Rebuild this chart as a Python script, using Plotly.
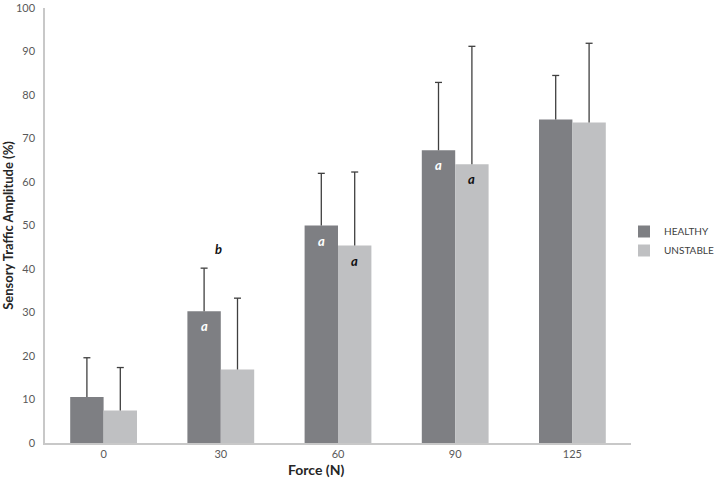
import plotly.graph_objects as go

categories = ["0", "30", "60", "90", "125"]
healthy = [10.6, 30.3, 50.0, 67.3, 74.4]
healthy_err = [9.0, 9.9, 12.0, 15.6, 10.1]
unstable = [7.5, 16.9, 45.4, 64.1, 73.7]
unstable_err = [9.85, 16.4, 16.9, 27.1, 18.2]
healthy_letters = ["", "a", "a", "a", ""]
unstable_letters = ["", "", "a", "a", ""]
group_letters = ["", "b", "", "", ""]

FONT = "Lato, 'Open Sans', sans-serif"
C_H = "#7e7f83"
C_U = "#bfc0c2"
ERR = "#3f3f3f"

fig = go.Figure()
for name, vals, errs, col, grp in [("HEALTHY", healthy, healthy_err, C_H, "h"),
                                   ("UNSTABLE", unstable, unstable_err, C_U, "u")]:
    fig.add_trace(go.Bar(
        name=name, x=categories, y=vals, offsetgroup=grp,
        marker=dict(color=col, line=dict(width=0)),
        error_y=dict(type="data", symmetric=False, array=errs,
                     arrayminus=[0] * len(vals), color=ERR, thickness=1.3, width=0),
    ))
for vals, errs, grp in [(healthy, healthy_err, "h"), (unstable, unstable_err, "u")]:
    fig.add_trace(go.Scatter(
        x=categories, y=[v + e for v, e in zip(vals, errs)], offsetgroup=grp,
        mode="markers", showlegend=False, hoverinfo="skip",
        marker=dict(symbol="line-ew", size=5, line=dict(color=ERR, width=1.3)),
    ))

bargap = 0.43
off = (1 - bargap) / 4
annotations = []
for i, (lab, v) in enumerate(zip(healthy_letters, healthy)):
    if lab:
        annotations.append(dict(x=i - off, y=v, xref="x", yref="y", text=f"<b><i>{lab}</i></b>",
                                showarrow=False, yanchor="top", yshift=-5,
                                font=dict(family=FONT, size=13, color="white")))
for i, (lab, v) in enumerate(zip(unstable_letters, unstable)):
    if lab:
        annotations.append(dict(x=i + off, y=v, xref="x", yref="y", text=f"<b><i>{lab}</i></b>",
                                showarrow=False, yanchor="top", yshift=-5,
                                font=dict(family=FONT, size=13, color="#111111")))
for i, lab in enumerate(group_letters):
    if lab:
        top = healthy[i] + healthy_err[i]
        annotations.append(dict(x=i - 0.02, y=top, xref="x", yref="y", text=f"<b><i>{lab}</i></b>",
                                showarrow=False, yanchor="bottom", yshift=9,
                                font=dict(family=FONT, size=13, color="#111111")))

L, R, T, B = 45, 83, 8, 40
pw, ph = 714 - L - R, 483 - T - B
annotations.append(dict(x=(316 - L) / pw, y=-(470 - (483 - B)) / ph, xref="paper", yref="paper",
                        text="<b>Force (N)</b>", showarrow=False, yanchor="middle",
                        font=dict(family=FONT, size=14, color="#262626")))

fig.update_layout(
    width=714, height=483,
    margin=dict(l=L, r=R, t=T, b=B, autoexpand=False),
    paper_bgcolor="white", plot_bgcolor="white",
    barmode="group", scattermode="group", bargap=bargap, bargroupgap=0,
    font=dict(family=FONT, size=11, color="#595959"),
    showlegend=True,
    legend=dict(xref="container", yref="container", x=624 / 714, y=1 - 241 / 483,
                xanchor="left", yanchor="middle",
                font=dict(family=FONT, size=10, color="#404040"),
                bgcolor="rgba(0,0,0,0)", itemwidth=30, tracegroupgap=0),
    xaxis=dict(showline=True, linecolor="#c8c8c8", linewidth=1.5, ticks="",
               showgrid=False, zeroline=False, tickfont=dict(size=11, color="#595959")),
    yaxis=dict(range=[0, 100.01], tickvals=[0, 10, 20, 30, 40, 50, 60, 70, 80, 90, 100],
               showline=True, linecolor="#c8c8c8", linewidth=1.5, ticklabeloverflow="allow",
               ticks="", showgrid=False, zeroline=False, ticklabelstandoff=6,
               tickfont=dict(size=11, color="#595959"),
               title=dict(text="<b>Sensory Traffic Amplitude (%)</b>", standoff=8,
                          font=dict(family=FONT, size=13, color="#262626"))),
    annotations=annotations,
)

fig.write_html("out.html", config={"displayModeBar": False},
               post_script="document.body.style.margin='0';document.body.style.padding='0';")
